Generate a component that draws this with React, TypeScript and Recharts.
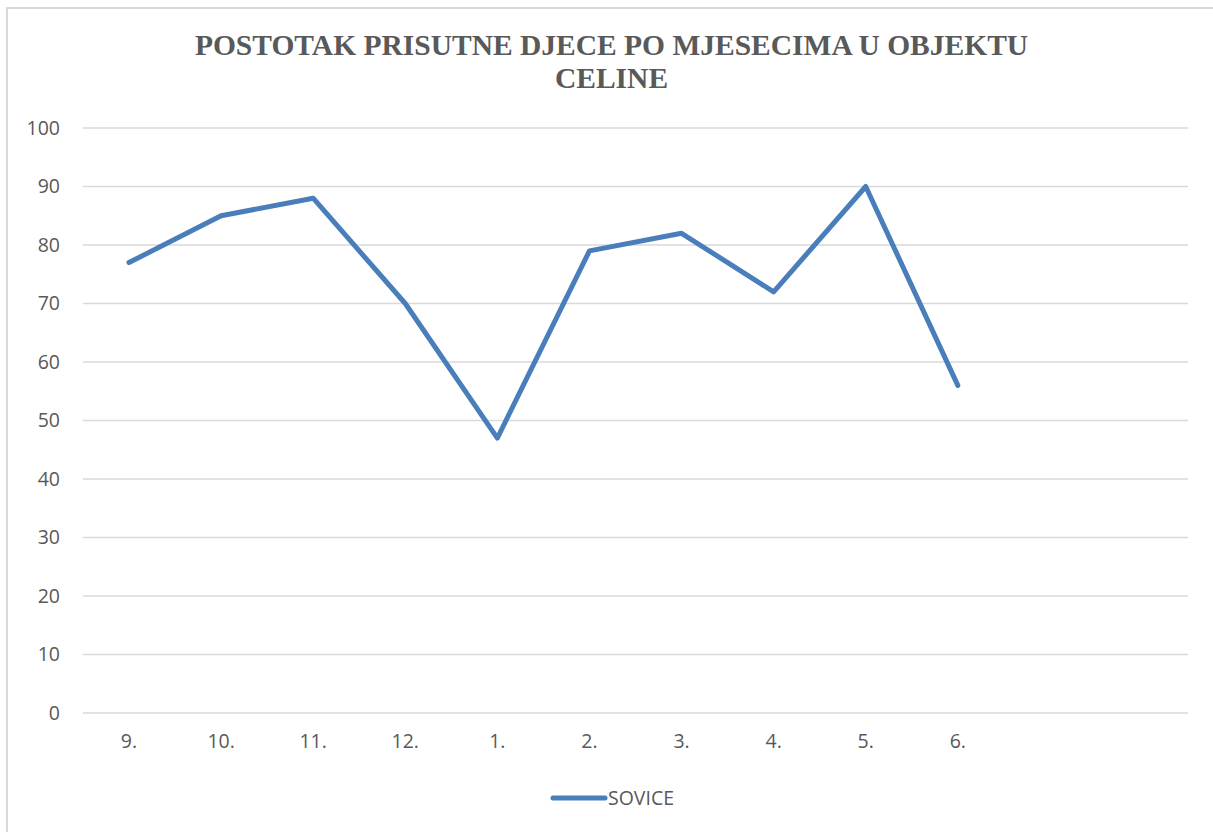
import { LineChart, Line, XAxis, YAxis, CartesianGrid } from 'recharts'

const MONTHS = ['9.', '10.', '11.', '12.', '1.', '2.', '3.', '4.', '5.', '6.', '', ' ']
const SOVICE = [77, 85, 88, 70, 47, 79, 82, 72, 90, 56, null, null]
const Y_TICKS = [0, 10, 20, 30, 40, 50, 60, 70, 80, 90, 100]
const TITLE_LINES = ['POSTOTAK PRISUTNE DJECE PO MJESECIMA U OBJEKTU', 'CELINE']
const SERIES_NAME = 'SOVICE'

const LINE_COLOR = '#4a7ebb'
const TEXT_COLOR = '#595959'
const FONT = '"Open Sans", "Noto Sans", sans-serif'

const data = MONTHS.map((m, i) => ({ month: m, sovice: SOVICE[i] }))

export default function App() {
  return (
    <div style={{ position: 'absolute', left: 0, top: 0, width: 1213, height: 832, background: '#fff', overflow: 'hidden' }}>
      <div
        style={{
          position: 'absolute',
          left: 6,
          top: 7,
          width: 1300,
          height: 900,
          border: '2px solid #d9d9d9',
          boxSizing: 'border-box',
        }}
      />
      <div
        style={{
          position: 'absolute',
          left: 10,
          width: 1203,
          top: 29,
          textAlign: 'center',
          fontFamily: '"Liberation Serif", "Times New Roman", serif',
          fontWeight: 'bold',
          fontSize: 29.5,
          lineHeight: '33px',
          color: TEXT_COLOR,
        }}
      >
        {TITLE_LINES.map((t) => (
          <div key={t}>{t}</div>
        ))}
      </div>
      <div style={{ position: 'absolute', left: 0, top: 0 }}>
        <LineChart
          width={1213}
          height={832}
          data={data}
          margin={{ top: 128, right: 25, bottom: 89, left: 0 }}
        >
          <CartesianGrid vertical={false} stroke="#d9d9d9" strokeWidth={1.5} />
          <XAxis
            dataKey="month"
            axisLine={false}
            tickLine={false}
            tickMargin={15}
            interval={0}
            padding={{ left: 46, right: 46 }}
            tick={{ fill: TEXT_COLOR, fontSize: 19.5, fontFamily: FONT }}
          />
          <YAxis
            width={83}
            domain={[0, 100]}
            ticks={Y_TICKS}
            axisLine={false}
            tickLine={false}
            tickMargin={17}
            tick={{ fill: TEXT_COLOR, fontSize: 19.5, fontFamily: FONT }}
          />
          <Line
            dataKey="sovice"
            name={SERIES_NAME}
            stroke={LINE_COLOR}
            strokeWidth={5}
            strokeLinejoin="round"
            strokeLinecap="round"
            dot={false}
            isAnimationActive={false}
          />
        </LineChart>
      </div>
      <div
        style={{
          position: 'absolute',
          left: 550,
          top: 784,
          display: 'flex',
          alignItems: 'center',
          fontFamily: FONT,
          fontSize: 19.5,
          color: TEXT_COLOR,
        }}
      >
        <svg width={58} height={10} style={{ display: 'block' }}>
          <line x1={3} y1={5} x2={55} y2={5} stroke={LINE_COLOR} strokeWidth={5} strokeLinecap="round" />
        </svg>
        <span style={{ lineHeight: '28px' }}>{SERIES_NAME}</span>
      </div>
    </div>
  )
}
